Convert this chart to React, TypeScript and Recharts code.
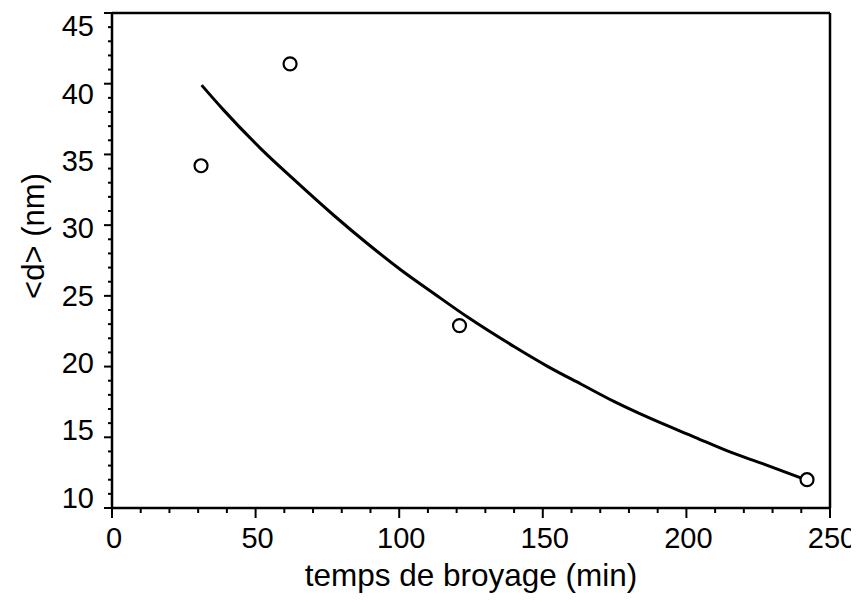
import React from "react";
import {
  ComposedChart,
  XAxis,
  YAxis,
  Line,
  Scatter,
  ReferenceLine,
  Label
} from "recharts";

const font = "'Liberation Sans', Arial, Helvetica, sans-serif";

// ticks
const xTicks = [0, 10, 20, 30, 40, 50, 60, 70, 80, 90, 100, 110, 120, 130, 140, 150, 160, 170, 180, 190, 200, 210, 220, 230, 240, 250];
const yTicks = [10, 11, 12, 13, 14, 15, 16, 17, 18, 19, 20, 21, 22, 23, 24, 25, 26, 27, 28, 29, 30, 31, 32, 33, 34, 35, 36, 37, 38, 39, 40, 41, 42, 43, 44, 45];

// measured points
const measuredTime = [31, 62, 121, 242];
const measuredSize = [34.2, 41.4, 22.9, 12.0];

// fitted curve
const fitTime = [31.2, 38.8, 51.6, 63.2, 77.2, 88.9, 100.5, 112.2, 123.8, 140.1, 151.8, 163.4, 175.1, 186.7, 203.0, 214.7, 226.3, 240.3];
const fitSize = [39.9, 38.15, 35.45, 33.25, 30.7, 28.7, 26.85, 25.15, 23.5, 21.4, 20.0, 18.75, 17.5, 16.4, 15.0, 14.0, 13.15, 12.1];

const measured = measuredTime.map((t, i) => ({ x: t, y: measuredSize[i] }));
const fit = fitTime.map((t, i) => ({ x: t, y: fitSize[i] }));

const XTick = (props: any) => {
  const { x, y, payload } = props;
  const v = payload.value;
  const major = v % 50 === 0;
  return (
    <g>
      <line x1={x} x2={x} y1={y} y2={y + (major ? 10 : 5)} stroke="#000" strokeWidth={2} />
      {major && (
        <text x={x + 2} y={y + 40} textAnchor="middle" fontSize={29} fill="#000" fontFamily={font}>
          {v}
        </text>
      )}
    </g>
  );
};

const YTick = (props: any) => {
  const { x, y, payload } = props;
  const v = payload.value;
  const major = v % 5 === 0;
  // the scanned labels sit a little closer to the middle than their ticks
  const dy = 0.68 * (v - 26);
  return (
    <g>
      <line x1={x} x2={x - (major ? 8 : 4)} y1={y} y2={y} stroke="#000" strokeWidth={2} />
      {major && (
        <text x={x - 18} y={y + dy} dy="0.36em" textAnchor="end" fontSize={29} fill="#000" fontFamily={font}>
          {v}
        </text>
      )}
    </g>
  );
};

const Dot = (props: any) => {
  const { cx, cy } = props;
  return <circle cx={cx} cy={cy} r={6.5} fill="#fff" stroke="#000" strokeWidth={2.2} />;
};

export default function App() {
  return (
    <ComposedChart width={851} height={587} margin={{ top: 5, right: 29, left: 0, bottom: 0 }}>
      <XAxis
        type="number"
        dataKey="x"
        domain={[0, 250]}
        ticks={xTicks}
        interval={0}
        tick={<XTick />}
        tickLine={false}
        tickSize={0}
        tickMargin={0}
        height={87}
        axisLine={{ stroke: "#000", strokeWidth: 2.5 }}
        allowDataOverflow
      >
        <Label
          value="temps de broyage (min)"
          position="insideBottom"
          offset={9}
          style={{ fontSize: 31.5, fontFamily: font, fill: "#000" }}
        />
      </XAxis>
      <YAxis
        type="number"
        dataKey="y"
        domain={[10, 45]}
        ticks={yTicks}
        interval={0}
        tick={<YTick />}
        tickLine={false}
        tickSize={0}
        tickMargin={0}
        width={104}
        axisLine={{ stroke: "#000", strokeWidth: 2.5 }}
        allowDataOverflow
      >
        <Label
          content={() => (
            <text
              x={25}
              y={228}
              transform="rotate(-90, 25, 228)"
              textAnchor="middle"
              dy="0.36em"
              fontSize={31}
              fontFamily={font}
              fill="#000"
            >
              {"<d> (nm)"}
            </text>
          )}
        />
      </YAxis>
      <ReferenceLine y={45} stroke="#000" strokeWidth={2.5} />
      <ReferenceLine x={250} stroke="#000" strokeWidth={2.5} />
      <Line
        data={fit}
        dataKey="y"
        type="monotone"
        stroke="#000"
        strokeWidth={3}
        dot={false}
        activeDot={false}
        isAnimationActive={false}
      />
      <Scatter data={measured} dataKey="y" shape={<Dot />} isAnimationActive={false} />
    </ComposedChart>
  );
}
